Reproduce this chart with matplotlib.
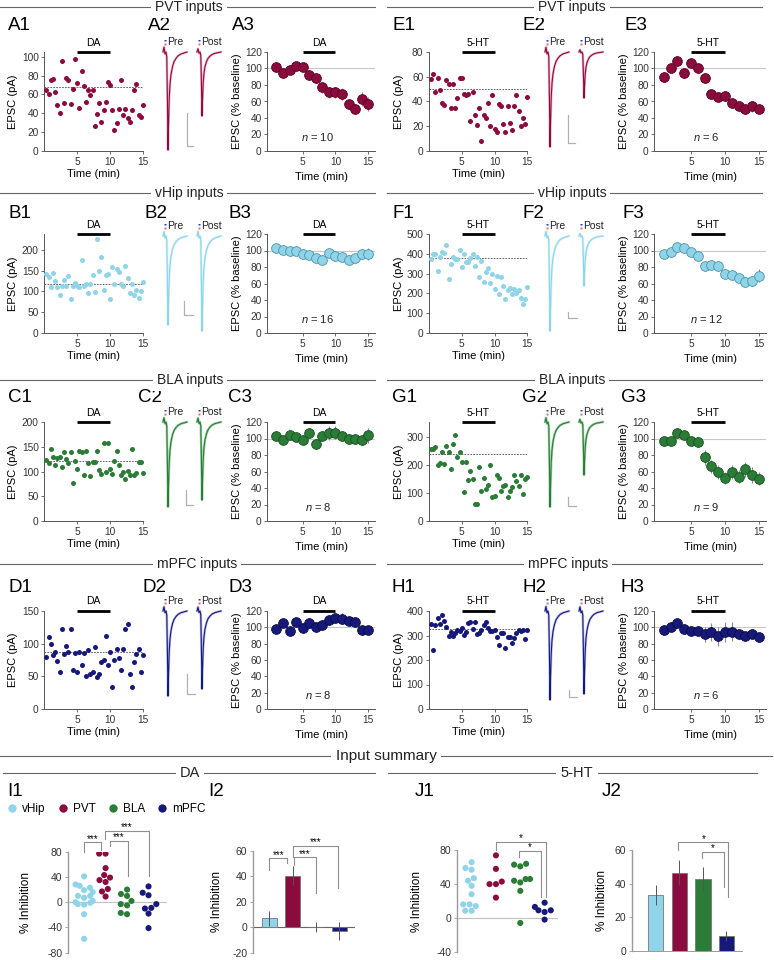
import numpy as np
import pandas as pd
import matplotlib
matplotlib.use("Agg")
import matplotlib.pyplot as plt
import matplotlib.transforms as mtransforms
from matplotlib.lines import Line2D
import seaborn as sns

plt.rcParams['font.family'] = ['Liberation Sans', 'DejaVu Sans']
plt.rcParams['axes.unicode_minus'] = False
plt.rcParams['mathtext.fontset'] = 'custom'
plt.rcParams['mathtext.it'] = 'Liberation Sans:italic'
plt.rcParams['mathtext.rm'] = 'Liberation Sans'

# ---------------- data ----------------
t_sweep = np.arange(1, 46) / 3      # one sweep every 20 s
t_min = np.arange(1, 16)

# example cells, EPSC amplitude (pA) per sweep
pvt_da_sweeps = [65, 60, 75, 76, 63, 49, 40, 95, 51, 77, 75, 50, 66, 98, 72, 46, 85, 69, 52, 65, 59, 65, 26,
                 39, 51, 31, 43, 52, 73, 70, 44, 22, 30, 45, 75, 38, 45, 35, 31, 43, 65, 71, 38, 36, 49]
vhip_da_sweeps = [142, 134, 110, 145, 125, 110, 91, 114, 127, 114, 137, 81, 112, 121, 114, 110, 175, 113, 118,
                  97, 119, 139, 98, 227, 148, 183, 103, 139, 142, 81, 159, 118, 154, 147, 117, 113, 162, 133,
                  95, 117, 92, 103, 84, 100, 122]
bla_da_sweeps = [123, 118, 145, 130, 113, 127, 129, 110, 139, 126, 117, 140, 76, 121, 106, 142, 140, 92, 142,
                 117, 90, 120, 119, 141, 104, 95, 157, 98, 157, 106, 95, 121, 142, 114, 92, 98, 84, 101, 92,
                 145, 93, 96, 120, 120, 96]
mpfc_da_sweeps = [80, 110, 100, 82, 87, 74, 57, 122, 84, 97, 87, 123, 59, 85, 57, 87, 68, 85, 50, 90, 54, 56,
                  95, 49, 54, 72, 75, 112, 68, 87, 33, 75, 92, 78, 60, 92, 122, 130, 54, 33, 72, 84, 92, 56, 83]
pvt_ht_sweeps = [58, 62, 48, 59, 49, 39, 37, 57, 54, 35, 54, 35, 43, 59, 59, 46, 45, 46, 24, 48, 29, 21, 35,
                 8, 29, 27, 39, 20, 45, 18, 15, 38, 36, 22, 15, 36, 23, 17, 36, 45, 32, 20, 27, 22, 44]
vhip_ht_sweeps = [372, 400, 401, 311, 383, 410, 406, 442, 274, 350, 386, 372, 376, 420, 335, 401, 357, 357,
                  379, 401, 340, 383, 284, 366, 259, 306, 328, 253, 298, 221, 289, 199, 284, 238, 170, 218,
                  228, 197, 221, 200, 218, 175, 146, 170, 230]
bla_ht_sweeps = [258, 259, 265, 200, 209, 247, 204, 269, 247, 187, 274, 308, 228, 245, 212, 102, 212, 148, 178,
                 149, 61, 62, 192, 106, 154, 113, 130, 199, 85, 89, 163, 155, 107, 125, 128, 86, 108, 122,
                 163, 143, 125, 163, 98, 149, 156]
mpfc_ht_sweeps = [347, 240, 343, 371, 346, 385, 358, 335, 300, 316, 300, 310, 324, 317, 331, 301, 313, 351,
                  355, 325, 355, 305, 312, 321, 344, 357, 332, 317, 317, 324, 294, 263, 312, 312, 251, 293,
                  293, 271, 290, 310, 324, 317, 321, 287, 321]
sweep_baselines = {'A': 68, 'B': 117, 'C': 121, 'D': 87, 'E': 50, 'F': 377, 'G': 240, 'H': 328}

# group time courses, EPSC (% baseline) per minute, mean and SEM
pvt_da_mean = [102, 95, 98.5, 102.5, 102, 92, 88, 77, 71, 71, 69, 57, 51, 63, 57]
pvt_da_sem = [4, 5, 5, 4, 4, 6, 6, 7, 7, 7, 7, 6, 6, 8, 8]
vhip_da_mean = [103.5, 100.7, 100, 99.5, 96, 94, 91, 88, 97, 93, 92, 89, 90.6, 96, 96]
vhip_da_sem = [3, 3, 3, 3, 3, 3, 4, 4, 5, 5, 5, 5, 5, 6, 7]
bla_da_mean = [102.5, 98, 103.7, 101.7, 98, 106.6, 93, 103.3, 106.6, 107, 103, 99, 99, 97.6, 103.7]
bla_da_sem = [4, 4, 5, 5, 5, 6, 6, 6, 8, 8, 6, 6, 6, 6, 9]
mpfc_da_mean = [98.5, 105, 95, 106, 99.7, 105, 101, 102.5, 109, 111, 110.6, 108, 106, 97, 97]
mpfc_da_sem = [4, 5, 5, 5, 5, 6, 6, 6, 6, 6, 7, 6, 6, 6, 5]
pvt_ht_mean = [89.6, 100, 108.6, 94, 106.6, 100.5, 89, 69, 65, 66.5, 57.6, 54.7, 50.7, 54, 51.5]
pvt_ht_sem = [6, 6, 6, 6, 5, 5, 6, 6, 6, 6, 6, 6, 6, 7, 6]
vhip_ht_mean = [95.4, 97.9, 104, 102.7, 97.9, 93.4, 81.4, 82.2, 81, 72, 70, 67, 62.4, 63, 69.3]
vhip_ht_sem = [3, 3, 3, 3, 3, 4, 4, 4, 4, 4, 4, 5, 5, 6, 8]
bla_ht_mean = [96.4, 96.4, 106.6, 104.6, 96.8, 95.6, 77, 66.3, 59.4, 52, 59.4, 53.7, 62.7, 55.7, 51.3]
bla_ht_sem = [5, 4, 5, 5, 6, 6, 9, 8, 8, 7, 8, 8, 9, 10, 8]
mpfc_ht_mean = [97, 101, 105, 98.5, 95.6, 95.6, 91.5, 94.8, 89, 94, 94.8, 91.5, 89.5, 91.5, 88.3]
mpfc_ht_sem = [4, 4, 4, 5, 5, 6, 9, 11, 12, 12, 12, 6, 5, 5, 5]
n_cells = {'A': 10, 'B': 16, 'C': 8, 'D': 8, 'E': 6, 'F': 12, 'G': 9, 'H': 6}

# example traces: normalised EPSC shape and pre / post peak amplitudes
trace_t = [0, 1, 2, 3, 3.8, 4.5, 5, 5.6, 6.2, 7, 8, 9.5, 11, 13, 15, 18, 21, 24]
trace_shape = [0, -0.05, 0.02, 0, 0.05, 0.55, 1.0, 0.72, 0.48, 0.33, 0.23, 0.15, 0.1, 0.065, 0.04, 0.02, 0.01, 0]
trace_amp = {'A': (98, 64), 'B': (89, 95), 'C': (85, 78), 'D': (85, 78),
             'E': (95, 46), 'F': (95, 50), 'G': (85, 53), 'H': (89, 83)}

# summary, % inhibition
inputs = ['vHip', 'PVT', 'BLA', 'mPFC']
da_vhip = [41, 28, 26, 23, 19, 16, 10, 10, 7, 2, 0, -1, -4, -3, -19, -58]
da_pvt = [77, 77, 54, 43, 39, 35, 32, 21, 17, 9]
da_bla = [20, 13, 10, 2, -3, -5, -17, -19]
da_mpfc = [25, 15, 11, -3, -9, -10, -18, -41]
ht_vhip = [66, 59, 57, 47, 44, 38, 28, 16, 16, 14, 8.5, 8.5]
ht_pvt = [74, 58, 43, 40, 40, 24]
ht_bla = [64, 63, 61, 46, 46, 44, 42, 32, -6]
ht_mpfc = [18, 13, 9, 9, 7, -2]
da_bar_mean = [7, 40.5, 0.5, -3]
da_bar_sem = [6, 7.5, 4, 7]
ht_bar_mean = [33.5, 46.5, 43, 9]
ht_bar_sem = [6, 7.5, 7, 3]

# ---------------- style ----------------
col = {'vHip': '#8fd4e8', 'PVT': '#8c0b3e', 'BLA': '#2b7c37', 'mPFC': '#17197a'}
edge = {'vHip': '#4d93a8', 'PVT': '#55001f', 'BLA': '#175020', 'mPFC': '#0a0a45'}
light = {'vHip': '#d5f2fa', 'PVT': '#eeb6c8', 'BLA': '#a5d3ac', 'mPFC': '#bcbeea'}

W, H = 774, 960
fig = plt.figure(figsize=(W / 100, H / 100), dpi=100)


def fx(px):
    return px / W


def fy(py):
    return 1 - py / H


def px_ax(l, t, r, b):
    return fig.add_axes([fx(l), fy(b), (r - l) / W, (b - t) / H])


def style(ax, spine='#555555', lsize=7.3):
    for s in ['top', 'right']:
        ax.spines[s].set_visible(False)
    for s in ['left', 'bottom']:
        ax.spines[s].set_color(spine)
        ax.spines[s].set_linewidth(0.7)
    ax.tick_params(length=2.5, width=0.6, labelsize=lsize, pad=1.5, color=spine, labelcolor='#333333')


def header(text, cx, cy, x0, x1, fs=10):
    fig.add_artist(Line2D([fx(x0), fx(x1)], [fy(cy), fy(cy)], transform=fig.transFigure,
                          color='#666666', lw=0.8))
    fig.text(fx(cx), fy(cy), text, ha='center', va='center', fontsize=fs, color='#222222',
             bbox=dict(facecolor='white', edgecolor='none', pad=3))


def drug_bar(ax, top, drug):
    tr = mtransforms.blended_transform_factory(ax.transData, fig.transFigure)
    ax.plot([5, 10], [fy(top - 0.5)] * 2, transform=tr, color='black', lw=2.0,
            solid_capstyle='butt', clip_on=False)
    ax.text(7.5, fy(top - 9.5), drug, transform=tr, ha='center', va='center', fontsize=7.5)


def draw_traces(x0, base, amps, dark, pale, bar):
    ax = px_ax(x0 - 3, base - 12, x0 + 62, base + 103)
    ax.set_xlim(-3, 62)
    ax.set_ylim(-103, 12)
    ax.axis('off')
    for off, amp, lab in [(0, amps[0], 'Pre'), (34, amps[1], 'Post')]:
        tt = np.asarray(trace_t) + off
        yy = -amp * np.asarray(trace_shape)
        ax.plot(tt, yy, color=pale, lw=1.8, solid_capstyle='round')
        ax.plot(tt, yy, color=dark, lw=0.8)
        ax.plot([off + 2], [11.8], 's', ms=1.9, color='#2338c8', mec='none')
        ax.plot([off + 2], [8.0], 's', ms=1.9, color='#f26b6b', mec='none')
        ax.text(off + 4.3, 9.6, lab, fontsize=7.5, va='center', ha='left', color='#222222')
    xb, yt, yb, xe = bar
    ax.plot([xb, xb, xe], [yt, yb, yb], color='#b0b0b0', lw=0.9)


row_top = [52, 234, 422, 611]
row_bot = [151, 333, 521, 709]
label_y = [25, 213, 397, 587]

halves = {
    'L': dict(c1=(44.3, 143.0), c3=(267.2, 374.9), tx=163, yl1=18, yl3=242, drug='DA'),
    'R': dict(c1=(428.9, 527.3), c3=(654.3, 765.8), tx=545, yl1=404, yl3=629, drug='5-HT'),
}

panels = [
    # letter, half, row, input, sweeps, ylim, ystep, mean, sem, label x (1,2,3), scale bar
    ('A', 'L', 0, 'PVT', pvt_da_sweeps, 105, 20, pvt_da_mean, pvt_da_sem, (8, 148, 232), (23.7, -61, -94, 30)),
    ('B', 'L', 1, 'vHip', vhip_da_sweeps, 238, 50, vhip_da_mean, vhip_da_sem, (8, 145, 229), (21, -65, -79, 29.7)),
    ('C', 'L', 2, 'BLA', bla_da_sweeps, 200, 50, bla_da_mean, bla_da_sem, (8, 138, 228), (22.7, -68, -83, 30)),
    ('D', 'L', 3, 'mPFC', mpfc_da_sweeps, 150, 50, mpfc_da_mean, mpfc_da_sem, (8, 143, 228), (23.7, -63, -83, 32)),
    ('E', 'R', 0, 'PVT', pvt_ht_sweeps, 80, 20, pvt_ht_mean, pvt_ht_sem, (393, 522, 625), (22.7, -63, -91, 30)),
    ('F', 'R', 1, 'vHip', vhip_ht_sweeps, 500, 100, vhip_ht_mean, vhip_ht_sem, (392, 523, 622), (23.3, -76, -82, 31.7)),
    ('G', 'R', 2, 'BLA', bla_ht_sweeps, 354, 100, bla_ht_mean, bla_ht_sem, (392, 522, 621), (22.7, -75, -84, 30.7)),
    ('H', 'R', 3, 'mPFC', mpfc_ht_sweeps, 400, 100, mpfc_ht_mean, mpfc_ht_sem, (391, 522, 621), (24, -79, -86, 31.7)),
]

for letter, half, r, src, sweeps, ymax, ystep, mean, sem, labx, sbar in panels:
    g = halves[half]
    top, bot = row_top[r], row_bot[r]

    # example cell
    ax1 = px_ax(g['c1'][0], top, g['c1'][1], bot)
    style(ax1)
    ax1.scatter(t_sweep, sweeps, s=13, color=col[src], linewidths=0, zorder=3, clip_on=False)
    ax1.plot([0, 15], [sweep_baselines[letter]] * 2, color='#666666', lw=0.7, ls=(0, (1.8, 1.2)), zorder=2)
    ax1.set_xlim(0, 15)
    ax1.set_ylim(0, ymax)
    ax1.set_xticks([5, 10, 15])
    ax1.set_yticks(np.arange(0, ymax + 1, ystep))
    ax1.set_xlabel('Time (min)', fontsize=8)
    ax1.set_ylabel('EPSC (pA)', fontsize=8)
    ax1.xaxis.set_label_coords(fx((g['c1'][0] + g['c1'][1]) / 2), fy(bot + 18), transform=fig.transFigure)
    ax1.yaxis.set_label_coords(fx(g['yl1']), fy((top + bot) / 2), transform=fig.transFigure)
    drug_bar(ax1, top, g['drug'])

    # traces
    draw_traces(g['tx'], top + (2 if r == 1 else 0), trace_amp[letter], col[src], light[src], sbar)

    # time course
    ax3 = px_ax(g['c3'][0], top, g['c3'][1], bot)
    style(ax3)
    ax3.axhline(100, color='#c8c8c8', lw=0.8, zorder=1)
    ax3.errorbar(t_min, mean, yerr=sem, fmt='o', ms=7, mfc=col[src], mec=edge[src], mew=0.6,
                 ecolor='#8a8a8a', elinewidth=0.8, capsize=0, zorder=3)
    ax3.set_xlim(-0.4, 16)
    ax3.set_ylim(0, 120)
    ax3.set_xticks([5, 10, 15])
    ax3.set_yticks(np.arange(0, 121, 20))
    ax3.set_xlabel('Time (min)', fontsize=8)
    ax3.set_ylabel('EPSC (% baseline)', fontsize=8)
    ax3.xaxis.set_label_coords(fx((g['c3'][0] + g['c3'][1]) / 2), fy(bot + 21), transform=fig.transFigure)
    ax3.yaxis.set_label_coords(fx(g['yl3']), fy((top + bot) / 2), transform=fig.transFigure)
    ax3.text(0.47, 0.14, f'$n$ = {n_cells[letter]}', transform=ax3.transAxes,
             ha='center', va='center', fontsize=8, color='#222222')
    drug_bar(ax3, top, g['drug'])

    for k, lx in enumerate(labx):
        fig.text(fx(lx), fy(label_y[r]), f'{letter}{k + 1}', fontsize=13.5, ha='left', va='center')

# section headers
hdr_rows = [('PVT inputs', 7, 189, 572), ('vHip inputs', 193, 189, 572),
            ('BLA inputs', 380, 190, 572), ('mPFC inputs', 564, 197, 568)]
for txt, y, cl, cr in hdr_rows:
    header(txt, cl, y, 0, 375)
    header(txt, cr, y, 387, 762)
header('Input summary', 386, 756, 0, 772, fs=11)
header('DA', 190, 773, 3, 375, fs=10.5)
header('5-HT', 577, 773, 388, 757, fs=10.5)

# ---------------- summary ----------------
palette = [col[k] for k in inputs]


def swarm(ax, groups):
    df = pd.DataFrame({'input': sum([[k] * len(v) for k, v in zip(inputs, groups)], []),
                       'inhib': sum([list(v) for v in groups], [])})
    sns.swarmplot(data=df, x='input', y='inhib', hue='input', order=inputs, hue_order=inputs,
                  palette=palette, size=4.4, linewidth=0, ax=ax, legend=False, zorder=3)
    ax.set_xlabel('')
    ax.set_xticks([])
    ax.spines['bottom'].set_visible(False)


def bars(ax, mean, sem):
    x = np.arange(len(inputs))
    ax.bar(x, mean, width=0.64, color=palette, edgecolor='#777777', linewidth=0.6, zorder=2)
    ax.errorbar(x, mean, yerr=sem, fmt='none', ecolor='#555555', elinewidth=0.7, capsize=0, zorder=3)
    ax.set_xticks([])


def bracket(ax, xl, xr, ytop, yl, yr, label):
    ax.plot([xl, xl, xr, xr], [yl, ytop, ytop, yr], color='#8f8f8f', lw=0.8, clip_on=False)
    ax.annotate(label, ((xl + xr) / 2, ytop), xytext=(0, 2.5), textcoords='offset points',
                ha='center', va='center', fontsize=7, annotation_clip=False)


def summary_style(ax, ylabel, ylab_x, top, bot):
    style(ax, spine='#9a9a9a', lsize=7.5)
    ax.spines['left'].set_linewidth(1.0)
    ax.tick_params(axis='x', length=0)
    ax.set_ylabel(ylabel, fontsize=8.5)
    ax.yaxis.set_label_coords(fx(ylab_x), fy((top + bot) / 2), transform=fig.transFigure)


# I1
ax = px_ax(68, 851.7, 167, 952.7)
swarm(ax, [da_vhip, da_pvt, da_bla, da_mpfc])
ax.axhline(0, color='#c0c0c0', lw=0.8, zorder=1)
ax.set_xlim(-0.75, 3.86)
ax.set_ylim(-80, 80)
ax.set_yticks([-80, -40, 0, 40, 80])
summary_style(ax, '% Inhibition', 32, 851.7, 952.7)
bracket(ax, 0, 0.8, 95, 80, 83, '***')
bracket(ax, 1.2, 2.05, 97, 89, 41, '***')
bracket(ax, 0.95, 3.0, 113, 100, 41, '***')

# I2
ax = px_ax(253, 851, 355, 952.7)
bars(ax, da_bar_mean, da_bar_sem)
ax.axhline(0, color='#666666', lw=0.8, zorder=1)
ax.set_xlim(-0.7, 3.68)
ax.set_ylim(-20, 60)
ax.set_yticks([-20, 0, 20, 40, 60])
summary_style(ax, '% Inhibition', 223, 851, 952.7)
ax.spines['bottom'].set_visible(False)
bracket(ax, 0, 0.77, 54.3, 45, 50.3, '***')
bracket(ax, 1.04, 2.0, 55, 49, 26.7, '***')
bracket(ax, 1.0, 2.97, 64, 55, 31, '***')

# J1
ax = px_ax(457, 850.3, 558, 951.7)
swarm(ax, [ht_vhip, ht_pvt, ht_bla, ht_mpfc])
ax.axhline(0, color='#c0c0c0', lw=0.8, zorder=1)
ax.set_xlim(-0.6, 3.55)
ax.set_ylim(-40, 80)
ax.set_yticks([-40, 0, 40, 80])
summary_style(ax, '% Inhibition', 423, 850.3, 951.7)
bracket(ax, 1.0, 3.04, 89.9, 80, 25, '*')
bracket(ax, 1.96, 2.85, 79.6, 71.7, 25, '*')

# J2
ax = px_ax(632, 850, 742, 951)
bars(ax, ht_bar_mean, ht_bar_sem)
ax.set_xlim(-1.02, 3.66)
ax.set_ylim(0, 60)
ax.set_yticks([0, 20, 40, 60])
summary_style(ax, '% Inhibition', 608, 850, 951)
bracket(ax, 0.95, 3.08, 64.6, 60, 32.3, '*')
bracket(ax, 1.94, 2.9, 59, 55, 38.2, '*')

for lab, lx in [('I1', 7), ('I2', 208), ('J1', 415), ('J2', 602)]:
    fig.text(fx(lx), fy(791), lab, fontsize=13.5, ha='left', va='center')

handles = [Line2D([], [], ls='none', marker='o', ms=6, mfc=col[k], mec='none') for k in inputs]
fig.legend(handles, inputs, loc='center left', bbox_to_anchor=(fx(8), fy(809)), ncol=4, frameon=False,
           fontsize=8.5, handlelength=0.7, handletextpad=0.5, columnspacing=1.1,
           borderpad=0, borderaxespad=0)

fig.savefig('out.png', dpi=100)
